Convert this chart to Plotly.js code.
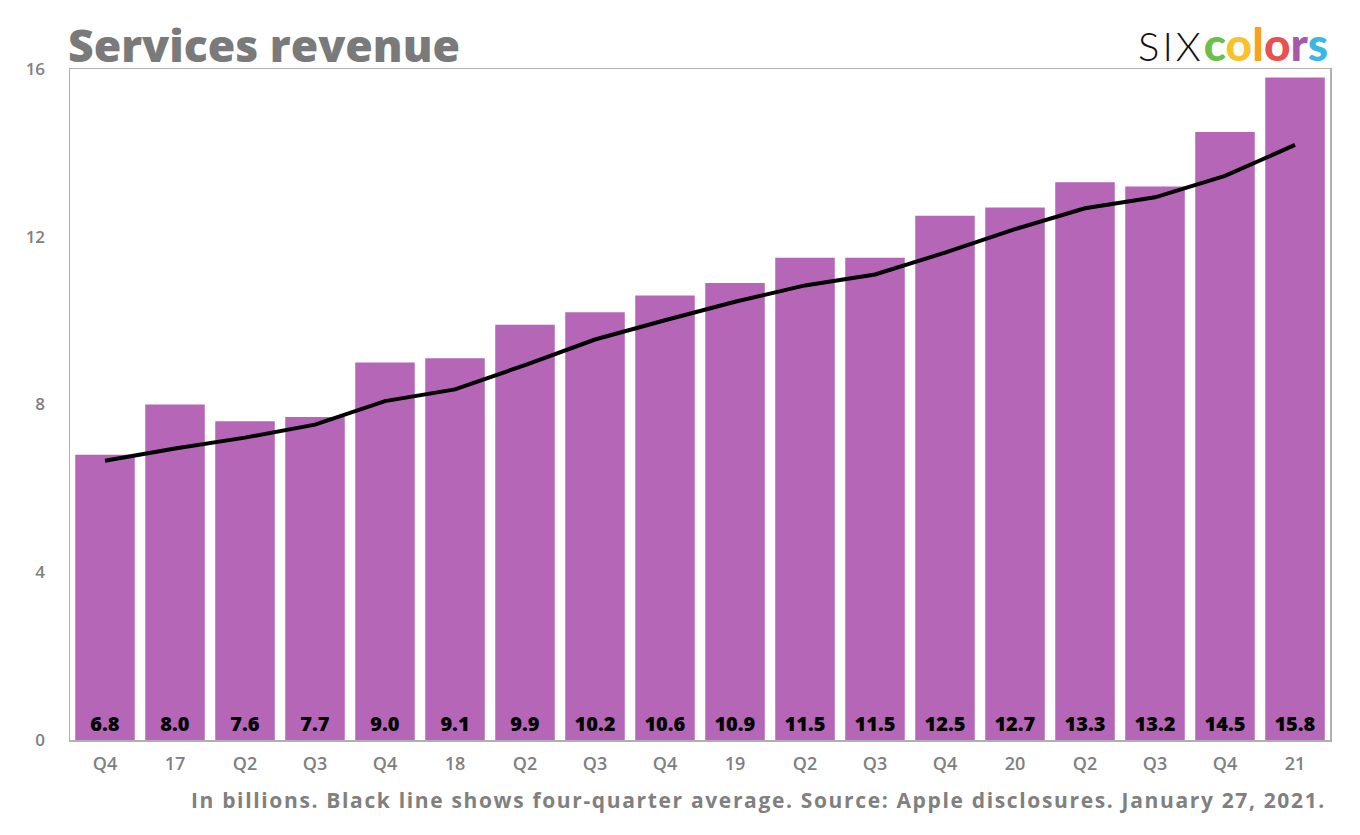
<!DOCTYPE html>
<html>
<head>
<meta charset="utf-8">
<script src="https://cdn.plot.ly/plotly-3.0.1.min.js"></script>
<style>
  html, body { margin: 0; padding: 0; background: #fff; }
  #chart { width: 1360px; height: 835px; }
</style>
</head>
<body>
<div id="chart"></div>
<script>
// quarters shown on the axis (fiscal)
var quarters = ['Q4 2016', 'Q1 2017', 'Q2 2017', 'Q3 2017', 'Q4 2017', 'Q1 2018',
                'Q2 2018', 'Q3 2018', 'Q4 2018', 'Q1 2019', 'Q2 2019', 'Q3 2019',
                'Q4 2019', 'Q1 2020', 'Q2 2020', 'Q3 2020', 'Q4 2020', 'Q1 2021'];
var tickLabels = ['Q4', '17', 'Q2', 'Q3', 'Q4', '18', 'Q2', 'Q3', 'Q4',
                  '19', 'Q2', 'Q3', 'Q4', '20', 'Q2', 'Q3', 'Q4', '21'];

// services revenue, billions
var revenue = [6.8, 8.0, 7.6, 7.7, 9.0, 9.1, 9.9, 10.2, 10.6,
               10.9, 11.5, 11.5, 12.5, 12.7, 13.3, 13.2, 14.5, 15.8];

// four-quarter average
var fourQuarterAvg = [6.66, 6.95, 7.21, 7.52, 8.08, 8.36, 8.94, 9.55, 10.01,
                      10.45, 10.84, 11.10, 11.62, 12.18, 12.68, 12.94, 13.45, 14.19];

var gray = '#808080';
var face = '"Open Sans", sans-serif';

var bars = {
    x: quarters,
    y: revenue,
    type: 'bar',
    marker: { color: '#b566b6' },
    text: revenue.map(function(v) { return v.toFixed(1); }),
    textposition: 'inside',
    insidetextanchor: 'start',
    constraintext: 'none',
    textangle: 0,
    textfont: { family: face, size: 20, color: '#000', weight: 800 },
    hoverinfo: 'x+y'
};

var avgLine = {
    x: quarters,
    y: fourQuarterAvg,
    type: 'scatter',
    mode: 'lines',
    line: { color: '#000', width: 4 },
    hoverinfo: 'y'
};

var logo = '<span style="font-family:Lato;font-weight:300;font-size:40px;fill:#111;letter-spacing:3px">SIX</span>' +
    '<span style="font-family:Lato;font-weight:900;font-size:46px">' +
    '<span style="fill:#6cc04a">c</span>' +
    '<span style="fill:#f8c22a">o</span>' +
    '<span style="fill:#f5a21f">l</span>' +
    '<span style="fill:#e8514f">o</span>' +
    '<span style="fill:#a45aa8">r</span>' +
    '<span style="fill:#39b7e7">s</span></span>';

var footnote = '<span style="letter-spacing:1.65px">In billions. Black line shows four-quarter average. ' +
    'Source: Apple disclosures. January 27, 2021.</span>';

var layout = {
    width: 1360,
    height: 835,
    margin: { l: 70, r: 30, t: 69, b: 95 },
    paper_bgcolor: '#fff',
    plot_bgcolor: '#fff',
    showlegend: false,
    bargap: 0.15,
    font: { family: face, color: gray },
    xaxis: {
        type: 'category',
        range: [-0.5, 17.5],
        tickvals: quarters,
        ticktext: tickLabels,
        ticks: '',
        showgrid: false,
        showline: true,
        linecolor: '#b0b0b0',
        linewidth: 1.5,
        mirror: true,
        ticklabelstandoff: 7,
        tickfont: { size: 18, color: gray, weight: 600 },
        fixedrange: true
    },
    yaxis: {
        range: [0, 16],
        tickvals: [0, 4, 8, 12, 16],
        ticks: '',
        showgrid: false,
        zeroline: false,
        showline: true,
        linecolor: '#b0b0b0',
        linewidth: 1.5,
        mirror: true,
        ticklabelstandoff: 20,
        tickfont: { size: 17, color: gray, weight: 600 },
        fixedrange: true
    },
    annotations: [
        {
            text: 'Services revenue',
            xref: 'paper', yref: 'paper', x: 0, y: 1,
            xanchor: 'left', yanchor: 'bottom', xshift: -4, yshift: -8,
            showarrow: false,
            font: { family: face, size: 44.5, color: '#7a7a7a', weight: 800 }
        },
        {
            text: logo,
            xref: 'paper', yref: 'paper', x: 1, y: 1,
            xanchor: 'right', yanchor: 'bottom', xshift: 0, yshift: -4,
            showarrow: false,
            font: { family: 'Lato, sans-serif', size: 44, color: '#222' }
        },
        {
            text: footnote,
            xref: 'paper', yref: 'paper', x: 1, y: 0,
            xanchor: 'right', yanchor: 'middle', xshift: -2, yshift: -60,
            showarrow: false,
            font: { family: face, size: 21, color: gray, weight: 700 }
        }
    ]
};

Plotly.newPlot('chart', [bars, avgLine], layout, { displayModeBar: false, staticPlot: true });
</script>
</body>
</html>
